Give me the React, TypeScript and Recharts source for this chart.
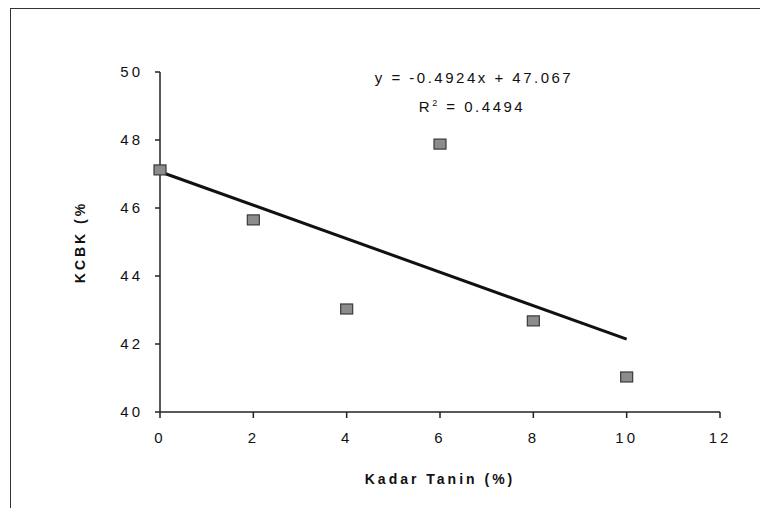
import React from 'react';
import { ComposedChart, Scatter, Line, XAxis, YAxis, Label } from 'recharts';

const tanin = [0, 2, 4, 6, 8, 10];
const kcbk = [47.12, 45.65, 43.03, 47.88, 42.68, 41.03];
const xTicks = [0, 2, 4, 6, 8, 10, 12];
const yTicks = [40, 42, 44, 46, 48, 50];
const slope = -0.4924;
const intercept = 47.067;

const points = tanin.map((x, i) => ({ x, y: kcbk[i] }));
const trend = [0, 10].map((x) => ({ x, t: slope * x + intercept }));

const font = '"Liberation Sans", Arial, sans-serif';

const Square = (props: any) => {
  const { cx, cy } = props;
  if (cx == null || cy == null) return null;
  return <rect x={cx - 6} y={cy - 5} width={12} height={10} fill="#8c8c8c" stroke="#3a3a3a" strokeWidth={1.2} />;
};

export default function App() {
  return (
    <div style={{ position: 'relative', width: 768, height: 516, margin: -8, background: '#fff', fontFamily: font }}>
      <div
        style={{
          position: 'absolute',
          left: 10,
          top: 8,
          width: 754,
          height: 510,
          borderTop: '1.5px solid #333',
          borderLeft: '1.5px solid #333',
          borderRight: '1.5px solid #444',
        }}
      />
      <ComposedChart
        width={768}
        height={516}
        margin={{ top: 72, right: 48, bottom: 74, left: 100 }}
        style={{ position: 'absolute', left: 0, top: 0 }}
      >
        <XAxis
          dataKey="x"
          type="number"
          domain={[0, 12]}
          ticks={xTicks}
          height={30}
          stroke="#222"
          strokeWidth={1.5}
          tickSize={6}
          tickMargin={14}
          tick={{ fill: '#111', fontSize: 15, fontFamily: font, letterSpacing: 3 }}
        >
          <Label
            value="Kadar Tanin (%)"
            position="bottom"
            offset={32}
            style={{ fill: '#111', fontSize: 14, fontWeight: 700, fontFamily: font, letterSpacing: 3 }}
          />
        </XAxis>
        <YAxis
          type="number"
          domain={[40, 50]}
          ticks={yTicks}
          width={60}
          stroke="#222"
          strokeWidth={1.5}
          tickSize={5}
          tickMargin={12}
          tick={{ fill: '#111', fontSize: 15, fontFamily: font, letterSpacing: 3 }}
        >
          <Label
            value="KCBK (%"
            angle={-90}
            position="insideLeft"
            offset={-20}
            style={{ fill: '#111', fontSize: 14, fontWeight: 700, fontFamily: font, letterSpacing: 3, textAnchor: 'middle' }}
          />
        </YAxis>
        <Line
          data={trend}
          dataKey="t"
          type="linear"
          stroke="#111"
          strokeWidth={3}
          dot={false}
          activeDot={false}
          isAnimationActive={false}
        />
        <Scatter data={points} dataKey="y" shape={<Square />} isAnimationActive={false} />
        <text x={474} y={83} textAnchor="middle" fill="#111" fontSize={15} fontFamily={font} letterSpacing={2.5}>
          y = -0.4924x + 47.067
        </text>
        <text x={472} y={112} textAnchor="middle" fill="#111" fontSize={15} fontFamily={font} letterSpacing={2.5}>
          R<tspan fontSize={9} dy={-6}>2</tspan>
          <tspan dy={6}> = 0.4494</tspan>
        </text>
      </ComposedChart>
    </div>
  );
}
